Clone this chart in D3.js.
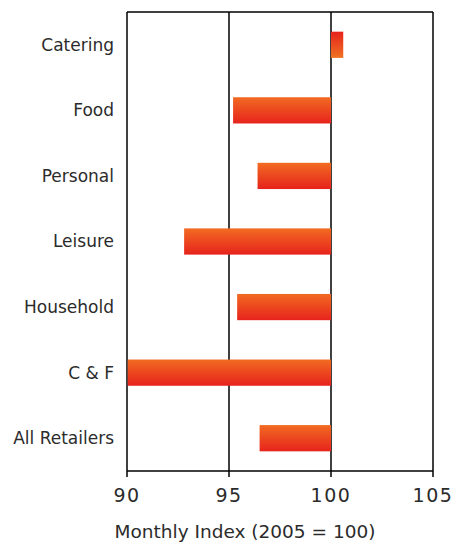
<!DOCTYPE html>
<html lang="en">
<head>
<meta charset="utf-8">
<script src="https://d3js.org/d3.v7.min.js"></script>
<style>
  body { margin: 0; background: #fff; }
  svg text { font-family: "DejaVu Sans", Verdana, sans-serif; fill: #2b2b2b; }
  .frame, .grid line { stroke: #000; stroke-width: 1.5px; }
</style>
</head>
<body>
<svg width="457" height="546"></svg>
<script>
// categories top to bottom and their index values (2005 = 100)
var sectors = ["Catering", "Food", "Personal", "Leisure", "Household", "C & F", "All Retailers"];
var index = [100.6, 95.2, 96.4, 92.8, 95.4, 90, 96.5];
var ticks = [90, 95, 100, 105];
var axisTitle = "Monthly Index (2005 = 100)";

var margin = {top: 12, right: 24, bottom: 75, left: 127};
var svg = d3.select("svg");
var w = 457 - margin.left - margin.right,
    h = 546 - margin.top - margin.bottom;

var x = d3.scaleLinear().domain([90, 105]).range([0, w]).clamp(true);
var y = d3.scaleBand().domain(sectors).range([0, h]).paddingInner(0.6).paddingOuter(0.3);

// gradients: orange on outer edge for bars below 100, flipped for bars above
var defs = svg.append("defs");
function grad(id, top, bottom) {
  var g = defs.append("linearGradient").attr("id", id)
    .attr("x1", 0).attr("y1", 0).attr("x2", 0).attr("y2", 1);
  g.append("stop").attr("offset", "0%").attr("stop-color", top);
  g.append("stop").attr("offset", "100%").attr("stop-color", bottom);
}
grad("down", "#f26b22", "#e6231c");
grad("up", "#e6231c", "#f07222");

var g = svg.append("g").attr("transform", "translate(" + margin.left + "," + margin.top + ")");

var data = sectors.map(function(s, i) { return {name: s, value: index[i]}; });

// vertical gridlines and frame
g.append("g").attr("class", "grid")
  .selectAll("line")
  .data(ticks)
  .enter().append("line")
    .attr("x1", function(d) { return x(d); })
    .attr("x2", function(d) { return x(d); })
    .attr("y1", 0)
    .attr("y2", h + 6);

g.append("line").attr("class", "frame")
  .attr("x1", 0).attr("x2", w).attr("y1", 0).attr("y2", 0);
g.append("line").attr("class", "frame")
  .attr("x1", 0).attr("x2", w).attr("y1", h).attr("y2", h);

// bars sit over the gridlines
g.selectAll("rect.bar")
  .data(data)
  .enter().append("rect")
    .attr("class", "bar")
    .attr("x", function(d) { return x(Math.min(d.value, 100)) + (d.value <= 90 ? 0.75 : 0); })
    .attr("y", function(d) { return y(d.name); })
    .attr("width", function(d) { return Math.abs(x(d.value) - x(100)) - (d.value <= 90 ? 0.75 : 0); })
    .attr("height", y.bandwidth())
    .attr("fill", function(d) { return d.value >= 100 ? "url(#up)" : "url(#down)"; });

// category labels
g.selectAll("text.cat")
  .data(sectors)
  .enter().append("text")
    .attr("class", "cat")
    .attr("x", -13)
    .attr("y", function(d) { return y(d) + y.bandwidth() / 2; })
    .attr("dy", "0.35em")
    .attr("text-anchor", "end")
    .style("font-size", "17px")
    .text(function(d) { return d; });

// tick labels
g.selectAll("text.tick")
  .data(ticks)
  .enter().append("text")
    .attr("class", "tick")
    .attr("x", function(d) { return x(d); })
    .attr("y", h + 31)
    .attr("text-anchor", "middle")
    .style("font-size", "19px")
    .style("letter-spacing", "1.5px")
    .text(function(d) { return d; });

svg.append("text")
  .attr("x", 245)
  .attr("y", 538)
  .attr("text-anchor", "middle")
  .style("font-size", "18.5px")
  .text(axisTitle);
</script>
</body>
</html>
